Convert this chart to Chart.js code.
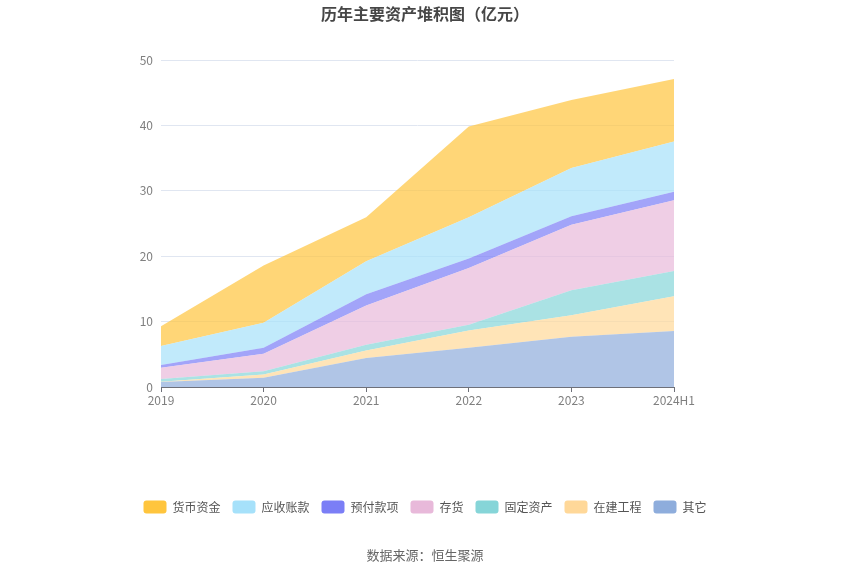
<!DOCTYPE html>
<html><head><meta charset="utf-8">
<script src="https://cdn.jsdelivr.net/npm/chart.js@4"></script>
<style>html,body{margin:0;padding:0;background:#fff;}#wrap{width:850px;height:575px;}</style>
</head><body><div id="wrap"><canvas id="c" width="850" height="575"></canvas></div>
<script>
const categories = ['2019','2020','2021','2022','2023','2024H1'];
const seriesNames = ['货币资金','应收账款','预付款项','存货','固定资产','在建工程','其它'];
const cash        = [3.00, 8.75, 6.71, 13.89, 10.43, 9.56];
const receivable  = [2.90, 3.82, 5.04, 6.31, 7.38, 7.68];
const prepay      = [0.41, 0.91, 1.73, 1.42, 1.27, 1.32];
const inventory   = [1.73, 2.70, 6.00, 8.70, 10.02, 10.79];
const fixedAssets = [0.42, 0.46, 0.86, 0.86, 3.81, 3.86];
const construction= [0.05, 0.51, 1.17, 2.65, 3.31, 5.34];
const other       = [0.76, 1.42, 4.43, 6.00, 7.68, 8.55];
const yTicks = [0,10,20,30,40,50];

const colors = ['#FFC53D','#A6E1FA','#7B7EF6','#E8B9DA','#86D5D8','#FFD899','#8EADDC'];
const values = [cash, receivable, prepay, inventory, fixedAssets, construction, other];
function rgba(hex,a){const n=parseInt(hex.slice(1),16);return `rgba(${n>>16},${(n>>8)&255},${n&255},${a})`;}

// bottom-first order for stacking; legend reversed
const datasets = [];
for (let i = seriesNames.length-1; i >= 0; i--) {
  const first = datasets.length === 0;
  datasets.push({
    label: seriesNames[i],
    data: values[i],
    yAxisID: 'y',
    backgroundColor: colors[i],
    borderColor: rgba(colors[i],0),
    borderWidth: 0,
    pointRadius: 0,
    pointHoverRadius: 0,
    tension: 0,
    fill: {target: first ? 'origin' : '-1', above: rgba(colors[i],0.7), below: rgba(colors[i],0.7)}
  });
}

const FONT = "'Noto Sans CJK SC','Noto Sans',sans-serif";
new Chart(document.getElementById('c'), {
  type: 'line',
  data: {labels: categories, datasets},
  options: {
    responsive: false,
    animation: false,
    layout: {padding: 0},
    plugins: {
      tooltip: {enabled: false},
      title: {display: true, text: '历年主要资产堆积图（亿元）', color: '#464646',
        font: {family: FONT, size: 16, weight: 'bold'}, padding: {top: 4.4, bottom: 36.4}},
      subtitle: {display: true, position: 'bottom', text: '数据来源：恒生聚源', color: '#666',
        font: {family: FONT, size: 13}, padding: {top: 23.7, bottom: 12.2}},
      legend: {position: 'bottom', reverse: true,
        labels: {boxWidth: 23, boxHeight: 13, useBorderRadius: true, borderRadius: 3,
          padding: 12, color: '#555', font: {family: FONT, size: 12}}}
    },
    scales: {
      x: {
        offset: false,
        grid: {display: true, drawOnChartArea: false, drawTicks: true, tickLength: 5, color: '#6e7079'},
        border: {display: true, color: '#6e7079'},
        ticks: {color: '#7f7f7f', padding: 1, font: {family: FONT, size: 12}, maxRotation: 0, autoSkip: false},
        afterFit: (s) => { s.height = 101.5; }
      },
      y: {
        stacked: true,
        min: 0, max: 50,
        afterBuildTicks: (s) => { s.ticks = yTicks.map(v => ({value: v})); },
        grid: {color: '#e0e6f1', drawTicks: false},
        border: {display: false},
        ticks: {color: '#7f7f7f', padding: 8, font: {family: FONT, size: 12}},
        afterFit: (s) => { s.width = 161; }
      },
      yRight: {
        position: 'right',
        display: true,
        grid: {display: false, drawTicks: false},
        border: {display: false},
        ticks: {display: false},
        afterFit: (s) => { s.width = 176; }
      }
    }
  }
});
</script></body></html>
